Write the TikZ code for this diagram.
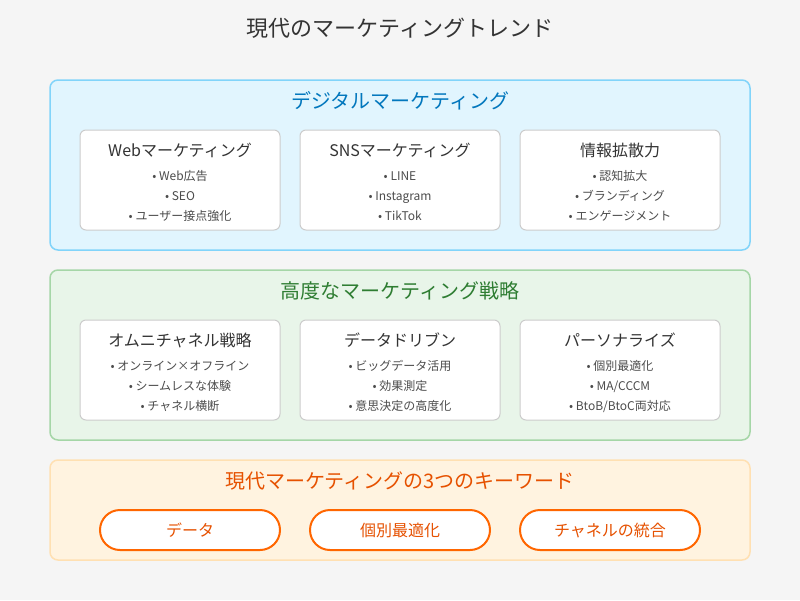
\documentclass[tikz,border=0pt]{standalone}
\usepackage{fontspec}
\setmainfont{Noto Sans CJK JP}
\begin{document}
\begin{tikzpicture}[x=1pt,y=-1pt,
 panel/.style={draw,line width=1.5pt,rounded corners=8pt},
 card/.style={draw=black!20,fill=white,line width=1pt,rounded corners=6pt},
 pill/.style={draw=orange!80!red,line width=2pt,fill=white,rounded corners=20pt},
 ttl/.style={font=\fontsize{20}{24}\selectfont,anchor=mid},
 ctl/.style={font=\fontsize{16}{19}\selectfont,text=black!80,anchor=mid},
 bul/.style={font=\fontsize{12}{14}\selectfont,text=black!70,anchor=mid}]
\definecolor{bl}{HTML}{0277BD}\definecolor{gr}{HTML}{2E7D32}\definecolor{or}{HTML}{E65100}
\definecolor{f1}{HTML}{E1F5FE}\definecolor{d1}{HTML}{81D4FA}
\definecolor{f2}{HTML}{E8F5E9}\definecolor{d2}{HTML}{A5D6A7}
\definecolor{f3}{HTML}{FFF3E0}\definecolor{d3}{HTML}{FFE0B2}
\fill[black!4] (0,0) rectangle (800,600);
\node[font=\fontsize{22}{26}\selectfont,text=black!80,anchor=mid] (t) at (400,34) {現代のマーケティングトレンド};
\draw[panel,draw=d1,fill=f1] (50,80) rectangle (750,250);
\node[ttl,text=bl] (p1) at (400,106) {デジタルマーケティング};
\draw[panel,draw=d2,fill=f2] (50,270) rectangle (750,440);
\node[ttl,text=gr] (p2) at (400,296) {高度なマーケティング戦略};
\draw[panel,draw=d3,fill=f3] (50,460) rectangle (750,560);
\node[ttl,text=or] (p3) at (400,486) {現代マーケティングの3つのキーワード};
\foreach \x/\t/\a/\b/\c in {80/Webマーケティング/Web広告/SEO/ユーザー接点強化,300/SNSマーケティング/LINE/Instagram/TikTok,520/情報拡散力/認知拡大/ブランディング/エンゲージメント}{
 \draw[card] (\x,130) rectangle ++(200,100);
 \node[ctl] at (\x+100,154) {\t};
 \node[bul] at (\x+100,178) {• \a};
 \node[bul] at (\x+100,198) {• \b};
 \node[bul] at (\x+100,218) {• \c};}
\foreach \x/\t/\a/\b/\c in {80/オムニチャネル戦略/オンライン×オフライン/シームレスな体験/チャネル横断,300/データドリブン/ビッグデータ活用/効果測定/意思決定の高度化,520/パーソナライズ/個別最適化/{MA/CCCM}/{BtoB/BtoC両対応}}{
 \draw[card] (\x,320) rectangle ++(200,100);
 \node[ctl] at (\x+100,344) {\t};
 \node[bul] at (\x+100,368) {• \a};
 \node[bul] at (\x+100,388) {• \b};
 \node[bul] at (\x+100,408) {• \c};}
\foreach \x/\t in {100/データ,310/個別最適化,520/チャネルの統合}{
 \draw[pill] (\x,510) rectangle ++(180,40);
 \node[font=\fontsize{16}{19}\selectfont,text=or,anchor=mid] at (\x+90,534) {\t};}
\end{tikzpicture}
\end{document}
